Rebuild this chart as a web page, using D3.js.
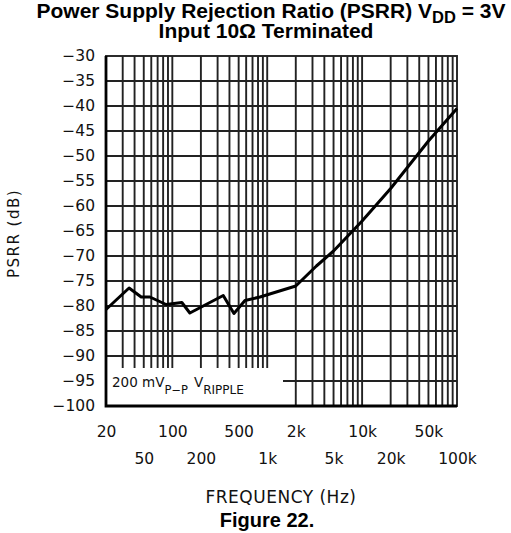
<!DOCTYPE html>
<html>
<head>
<meta charset="utf-8">
<script src="https://cdn.jsdelivr.net/npm/d3@7"></script>
<style>
  body { margin: 0; background: #fff; }
  svg { display: block; }
  .tick text { font-family: "DejaVu Sans", sans-serif; }
</style>
</head>
<body>
<div id="chart"></div>
<script>
// values
const freqHz = [20, 35, 47, 58, 86, 126, 153, 344, 446, 583, 839, 2000, 3300, 5000, 10000, 20000, 50000, 100000];
const psrrDb = [-80.7, -76.4, -78.2, -78.2, -79.7, -79.3, -81.4, -77.9, -81.5, -78.9, -78.2, -76.0, -72.0, -69.0, -63.0, -56.5, -47.0, -40.5];

const yTicks = [-30, -35, -40, -45, -50, -55, -60, -65, -70, -75, -80, -85, -90, -95, -100];
const xLabelsTop = [[20, "20"], [100, "100"], [500, "500"], [2000, "2k"], [10000, "10k"], [50000, "50k"]];
const xLabelsBottom = [[50, "50"], [200, "200"], [1000, "1k"], [5000, "5k"], [20000, "20k"], [100000, "100k"]];
const decades = [10, 100, 1000, 10000];

const width = 511, height = 533;
const margin = { top: 56, right: 54, bottom: 127, left: 106 };
const iw = width - margin.left - margin.right;
const ih = height - margin.top - margin.bottom;

const svg = d3.select("#chart").append("svg")
    .attr("width", width)
    .attr("height", height);

const x = d3.scaleLog().domain([20, 100000]).range([0, iw]);
const y = d3.scaleLinear().domain([-100, -30]).range([ih, 0]);

const g = svg.append("g").attr("transform", `translate(${margin.left},${margin.top})`);

// grid lines: every 1..9 multiple of each decade
const gridX = [];
decades.forEach(d => {
    for (let k = 1; k <= 9; k++) {
        const f = d * k;
        if (f > 20 && f < 100000) gridX.push(f);
    }
});

g.append("g")
    .selectAll("line")
    .data(gridX)
    .join("line")
    .attr("x1", d => x(d)).attr("x2", d => x(d))
    .attr("y1", 0).attr("y2", ih)
    .attr("stroke", "#222")
    .attr("stroke-width", 1.9);

g.append("g")
    .selectAll("line")
    .data(yTicks.filter(v => v > -100 && v < -30))
    .join("line")
    .attr("x1", 0).attr("x2", iw)
    .attr("y1", d => y(d)).attr("y2", d => y(d))
    .attr("stroke", "#222")
    .attr("stroke-width", 1.9);

// white box behind the ripple note
g.append("rect")
    .attr("x", 1)
    .attr("y", y(-92.4))
    .attr("width", 176)
    .attr("height", ih - y(-92.4))
    .attr("fill", "#fff");

// frame
g.append("rect")
    .attr("width", iw).attr("height", ih)
    .attr("fill", "none")
    .attr("stroke", "#222")
    .attr("stroke-width", 1.9);
g.append("path")
    .attr("d", `M0,0V${ih}H${iw}`)
    .attr("fill", "none")
    .attr("stroke", "#000")
    .attr("stroke-width", 2.8);

// curve
const line = d3.line()
    .x((d, i) => x(freqHz[i]))
    .y(d => y(d));

g.append("path")
    .datum(psrrDb)
    .attr("d", line)
    .attr("fill", "none")
    .attr("stroke", "#000")
    .attr("stroke-width", 3)
    .attr("stroke-linejoin", "round");

// y axis labels
const yAxis = d3.axisLeft(y).tickValues(yTicks).tickSize(0).tickPadding(11)
    .tickFormat(d => d3.format("")(d).replace("-", "\u2212"));
g.append("g")
    .call(yAxis)
    .call(a => a.select(".domain").remove())
    .selectAll("text")
    .attr("font-size", 15.5)
    .attr("fill", "#111");

// x axis labels, two staggered rows
const xAxisTop = d3.axisBottom(x).tickValues(xLabelsTop.map(d => d[0])).tickSize(0).tickPadding(20)
    .tickFormat(d => xLabelsTop.find(e => e[0] === d)[1]);
g.append("g")
    .attr("transform", `translate(0,${ih})`)
    .call(xAxisTop)
    .call(a => a.select(".domain").remove())
    .selectAll("text")
    .attr("font-size", 15.5)
    .attr("fill", "#111");

const xAxisBottom = d3.axisBottom(x).tickValues(xLabelsBottom.map(d => d[0])).tickSize(0).tickPadding(47)
    .tickFormat(d => xLabelsBottom.find(e => e[0] === d)[1]);
g.append("g")
    .attr("transform", `translate(0,${ih})`)
    .call(xAxisBottom)
    .call(a => a.select(".domain").remove())
    .selectAll("text")
    .attr("font-size", 15.5)
    .attr("fill", "#111");

// ripple note
const note = g.append("text")
    .attr("x", 6)
    .attr("y", y(-96.2))
    .attr("font-family", "DejaVu Sans, sans-serif")
    .attr("font-size", 13.5)
    .attr("fill", "#111");
note.append("tspan").text("200 mV");
note.append("tspan").attr("dy", 7).attr("font-size", 11.5).text("P\u2212P");
note.append("tspan").attr("dy", -7).attr("dx", 6).text("V");
note.append("tspan").attr("dy", 7).attr("font-size", 12).text("RIPPLE");

// axis titles
svg.append("text")
    .attr("transform", `translate(19,${margin.top + y(-65.5)}) rotate(-90)`)
    .attr("text-anchor", "middle")
    .attr("font-family", "DejaVu Sans, sans-serif")
    .attr("font-size", 15)
    .attr("letter-spacing", 1.5)
    .attr("fill", "#111")
    .text("PSRR (dB)");

svg.append("text")
    .attr("x", 281)
    .attr("y", 503)
    .attr("text-anchor", "middle")
    .attr("font-family", "DejaVu Sans, sans-serif")
    .attr("font-size", 17)
    .attr("letter-spacing", 0.5)
    .attr("fill", "#111")
    .text("FREQUENCY (Hz)");

svg.append("text")
    .attr("x", 267)
    .attr("y", 527)
    .attr("text-anchor", "middle")
    .attr("font-family", "Liberation Sans, Arial, sans-serif")
    .attr("font-weight", "bold")
    .attr("font-size", 20)
    .attr("fill", "#000")
    .text("Figure 22.");

// chart title
const t1 = svg.append("text")
    .attr("x", 271)
    .attr("y", 18)
    .attr("text-anchor", "middle")
    .attr("font-family", "Liberation Sans, Arial, sans-serif")
    .attr("font-weight", "bold")
    .attr("font-size", 21)
    .attr("fill", "#000");
t1.append("tspan").text("Power Supply Rejection Ratio (PSRR) V");
t1.append("tspan").attr("dy", 5).attr("font-size", 16.5).text("DD");
t1.append("tspan").attr("dy", -5).text(" = 3V");

svg.append("text")
    .attr("x", 266)
    .attr("y", 38)
    .attr("text-anchor", "middle")
    .attr("font-family", "Liberation Sans, Arial, sans-serif")
    .attr("font-weight", "bold")
    .attr("font-size", 21)
    .attr("fill", "#000")
    .text("Input 10\u03A9 Terminated");
</script>
</body>
</html>
